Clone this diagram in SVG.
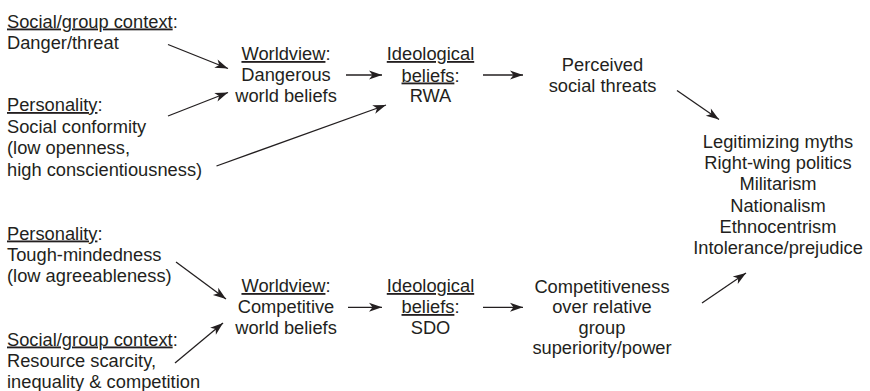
<svg xmlns="http://www.w3.org/2000/svg" width="870" height="391" viewBox="0 0 870 391">
<style>
text{font-family:"Liberation Sans",Arial,sans-serif;font-size:18.3px;fill:#231f20}
.c{text-anchor:middle}
.u{text-decoration:underline}
.ln{stroke:#231f20;stroke-width:1.3;fill:none;marker-end:url(#ah)}
</style>
<defs>
<marker id="ah" markerUnits="userSpaceOnUse" markerWidth="14" markerHeight="10" refX="13" refY="5" orient="auto" overflow="visible">
<path d="M0,0.5 L13,5 L0,9.5 L3.5,5 Z" fill="#231f20"/>
</marker>
</defs>
<rect width="870" height="391" fill="#fff"/>
<g id="social-context-top">
<text x="7" y="27.5"><tspan class="u">Social/group context</tspan>:</text>
<text x="7" y="49">Danger/threat</text>
</g>
<g id="personality-top">
<text x="7" y="111"><tspan class="u">Personality</tspan>:</text>
<text x="7" y="132.5">Social conformity</text>
<text x="7" y="154">(low openness,</text>
<text x="7" y="175.5">high conscientiousness)</text>
</g>
<g id="worldview-top">
<text class="c" x="286" y="60"><tspan class="u">Worldview</tspan>:</text>
<text class="c" x="286" y="81">Dangerous</text>
<text class="c" x="286" y="102">world beliefs</text>
</g>
<g id="ideology-top">
<text class="c" x="430.5" y="60"><tspan class="u">Ideological</tspan></text>
<text class="c" x="430.5" y="81.5"><tspan class="u">beliefs</tspan>:</text>
<text class="c" x="430.5" y="102">RWA</text>
</g>
<g id="perceived-threats">
<text class="c" x="602.5" y="70.5">Perceived</text>
<text class="c" x="602.5" y="91.5">social threats</text>
</g>
<g id="outcomes">
<text class="c" x="778" y="148">Legitimizing myths</text>
<text class="c" x="778" y="169.2">Right-wing politics</text>
<text class="c" x="778" y="190.4">Militarism</text>
<text class="c" x="778" y="211.6">Nationalism</text>
<text class="c" x="778" y="232.8">Ethnocentrism</text>
<text class="c" x="778" y="254">Intolerance/prejudice</text>
</g>
<g id="personality-bottom">
<text x="7" y="239.5"><tspan class="u">Personality</tspan>:</text>
<text x="7" y="261">Tough-mindedness</text>
<text x="7" y="282">(low agreeableness)</text>
</g>
<g id="social-context-bottom">
<text x="7" y="345.5"><tspan class="u">Social/group context</tspan>:</text>
<text x="7" y="367">Resource scarcity,</text>
<text x="7" y="388">inequality &amp; competition</text>
</g>
<g id="worldview-bottom">
<text class="c" x="286" y="292"><tspan class="u">Worldview</tspan>:</text>
<text class="c" x="286" y="313">Competitive</text>
<text class="c" x="286" y="333.5">world beliefs</text>
</g>
<g id="ideology-bottom">
<text class="c" x="430.5" y="292"><tspan class="u">Ideological</tspan></text>
<text class="c" x="430.5" y="313"><tspan class="u">beliefs</tspan>:</text>
<text class="c" x="430.5" y="333.5">SDO</text>
</g>
<g id="competitiveness">
<text class="c" x="602" y="292.5">Competitiveness</text>
<text class="c" x="602" y="313">over relative</text>
<text class="c" x="602" y="333.5">group</text>
<text class="c" x="602" y="354">superiority/power</text>
</g>
<g id="connectors">
<line class="ln" x1="168" y1="44.5" x2="228" y2="68.5"/>
<line class="ln" x1="168" y1="116" x2="228" y2="92.5"/>
<line class="ln" x1="216.5" y1="166" x2="386" y2="105"/>
<line class="ln" x1="346" y1="75" x2="382" y2="75"/>
<line class="ln" x1="483" y1="75" x2="523" y2="75"/>
<line class="ln" x1="677" y1="90.5" x2="719" y2="119.5"/>
<line class="ln" x1="176" y1="262" x2="226" y2="299"/>
<line class="ln" x1="175" y1="363" x2="223" y2="323"/>
<line class="ln" x1="348" y1="307.3" x2="382" y2="307.3"/>
<line class="ln" x1="483" y1="307.3" x2="523" y2="307.3"/>
<line class="ln" x1="702" y1="303" x2="746" y2="273"/>
</g>
</svg>
